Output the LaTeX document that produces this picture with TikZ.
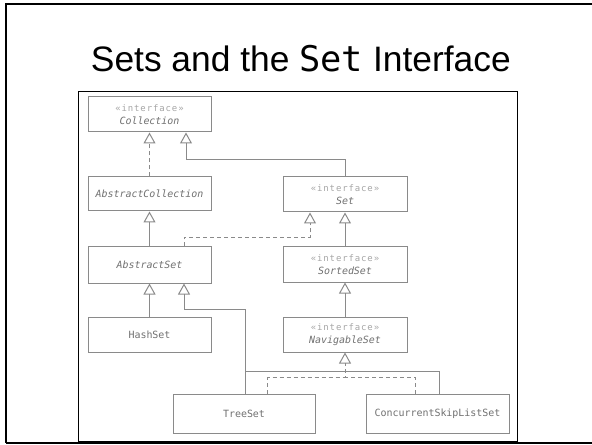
\documentclass[tikz,border=0pt]{standalone}
\usepackage{fontspec}
\setmainfont{Liberation Sans}
\newfontfamily\titlemono{DejaVu Sans Mono}
\newfontfamily\diagmono{DejaVu Sans Mono}
\newfontfamily\ifacefont{DejaVu Sans Mono}[LetterSpace=10]
\usetikzlibrary{arrows.meta}
\definecolor{boxline}{HTML}{8A8A8A}
\definecolor{clstext}{HTML}{707070}
\definecolor{ifacetext}{HTML}{A5A5A5}
\newcommand{\ifc}[1]{{\ifacefont\color{ifacetext}\fontsize{9}{12.5}\selectfont «interface»}\\{\itshape #1}}
\begin{document}
\begin{tikzpicture}[x=1bp,y=-1bp,
  cls/.style={draw=boxline,line width=1bp,inner sep=0pt,align=center,
    font=\diagmono\fontsize{10}{12.5}\selectfont,text=clstext},
  conn/.style={draw=boxline,line width=1bp},
  gen/.style={conn,-{Triangle[open,length=11bp,width=12bp]}},
  realz/.style={gen,dash pattern=on 4bp off 3bp}]
\useasboundingbox (0,0) rectangle (592,445);
% outer slide frame
\draw[line width=2bp] (6,442.5) -- (6,4) -- (600,4);
\draw[line width=2bp] (6,442.5) -- (600,442.5);
% title
\node[anchor=base,inner sep=0pt,font=\fontsize{35.5}{40}\selectfont] (title) at (300.8,71.7) {Sets and the {\titlemono Set} Interface};
% diagram frame
\draw[line width=1.5bp] (78.3,91.7) rectangle (517.3,441.5);
% boxes
\node[cls,minimum width=123bp,minimum height=35bp] (coll) at (149.5,114.5) {\ifc{Collection}};
\node[cls,minimum width=123bp,minimum height=34bp] (acoll) at (149.5,194) {\itshape AbstractCollection};
\node[cls,minimum width=123bp,minimum height=36bp] (aset) at (149.5,265) {\itshape AbstractSet};
\node[cls,minimum width=123bp,minimum height=35bp] (hash) at (149.5,334.5) {HashSet};
\node[cls,minimum width=124bp,minimum height=35bp] (set) at (345,194.5) {\ifc{Set}};
\node[cls,minimum width=124bp,minimum height=35bp] (sorted) at (345,264.5) {\ifc{SortedSet}};
\node[cls,minimum width=124bp,minimum height=35bp] (nav) at (345,334.5) {\ifc{NavigableSet}};
\node[cls,minimum width=142bp,minimum height=39bp] (tree) at (244,413.5) {TreeSet};
\node[cls,minimum width=143bp,minimum height=39bp] (csls) at (437.5,413.5) {ConcurrentSkipListSet};
% connectors
\draw[realz] (acoll.north) -- (coll.south);
\draw[gen] (set.north) |- ([xshift=36.5bp,yshift=-27bp]coll.south) -- ([xshift=36.5bp]coll.south);
\draw[gen] (aset.north) -- (acoll.south);
\draw[realz] ([xshift=34.5bp]aset.north) |- ([xshift=-35bp,yshift=-25bp]set.south) -- ([xshift=-35bp]set.south);
\draw[gen] (sorted.north) -- (set.south);
\draw[gen] (nav.north) -- (sorted.south);
\draw[gen] (hash.north) -- (aset.south);
\draw[gen] ([xshift=1.7bp]tree.north) |- ([xshift=34.5bp,yshift=-26bp]aset.south) -- ([xshift=34.5bp]aset.south);
\coordinate (branch) at ([xshift=1.7bp,yshift=22.3bp]tree.north);
\draw[conn] (branch) -| ([xshift=1.5bp]csls.north);
\coordinate (dashjoin) at ([yshift=-25bp]nav.south);
\draw[realz] ([xshift=23.7bp]tree.north) |- (dashjoin) -- (nav.south);
\draw[conn,dash pattern=on 4bp off 3bp] ([xshift=-21.8bp]csls.north) |- (dashjoin);
\end{tikzpicture}
\end{document}
